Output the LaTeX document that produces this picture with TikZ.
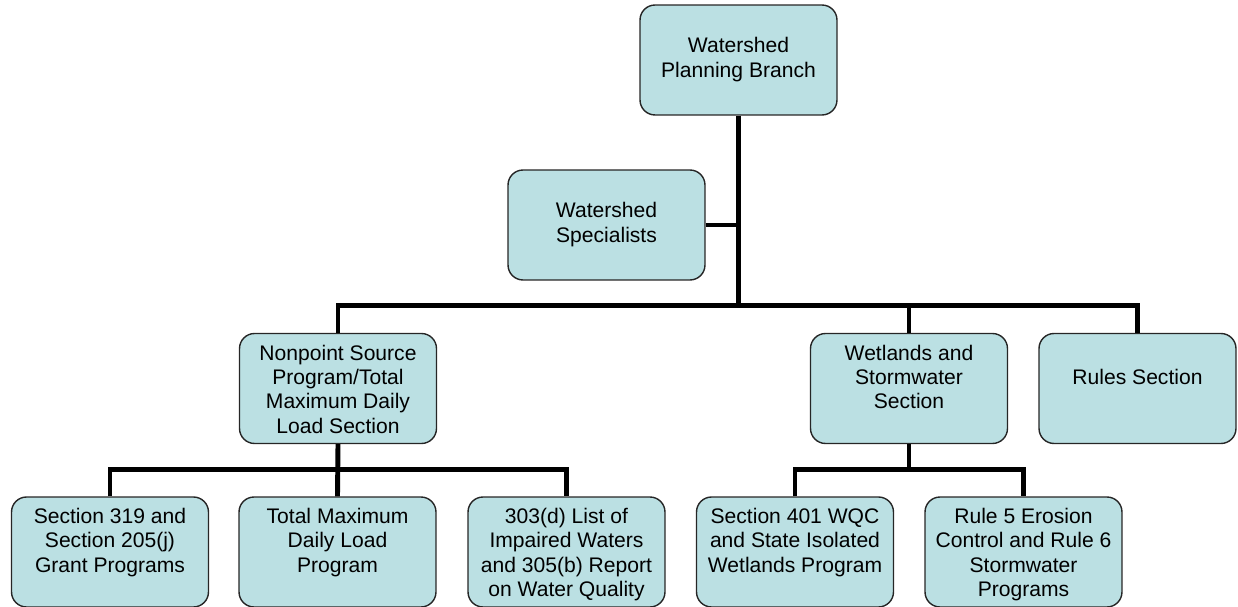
\documentclass[tikz,border=0pt]{standalone}
\usepackage{fontspec}
\setmainfont{Liberation Sans}
\definecolor{boxblue}{RGB}{187,224,227}
\newcommand{\orgtop}[1]{\parbox[c][2.2cm][t]{3.94cm}{\centering\fontsize{12}{13.9}\selectfont\rule{0pt}{0.53cm}#1}}
\newcommand{\orgmid}[1]{\parbox[c][2.2cm][c]{3.94cm}{\centering\fontsize{12}{13.9}\selectfont\strut#1\strut}}
\begin{document}
\begin{tikzpicture}[x=0.02cm, y=-0.02cm,
    orgbox/.style={draw=black!85, fill=boxblue, rounded corners=0.3cm, line width=0.8pt, inner sep=0pt},
    conn/.style={line width=2.8pt}]
    \useasboundingbox (0,0) rectangle (1238,607);

    %boxes
    \node[orgbox] (branch) at (738.5,60) {\orgmid{Watershed\\Planning Branch}};
    \node[orgbox] (spec) at (606.5,225) {\orgmid{Watershed\\Specialists}};
    \node[orgbox] (nps) at (338,388.5) {\orgtop{Nonpoint Source\\Program/Total\\Maximum Daily\\Load Section}};
    \node[orgbox] (wet) at (909,388.5) {\orgtop{Wetlands and\\Stormwater\\Section}};
    \node[orgbox] (rules) at (1137.5,388.5) {\orgtop{\mbox{}\\Rules Section}};
    \node[orgbox] (grant) at (110,552) {\orgtop{Section 319 and\\Section 205(j)\\Grant Programs}};
    \node[orgbox] (tmdl) at (337.5,552) {\orgtop{Total Maximum\\Daily Load\\Program}};
    \node[orgbox] (list) at (566.5,552) {\orgtop{303(d) List of\\Impaired Waters\\and 305(b) Report\\on Water Quality}};
    \node[orgbox] (wqc) at (795,552) {\orgtop{Section 401 WQC\\and State Isolated\\Wetlands Program}};
    \node[orgbox] (erosion) at (1023.5,552) {\orgtop{Rule 5 Erosion\\Control and Rule 6\\Stormwater\\Programs}};

    %lines
    \draw[conn] (branch.south) -- ++(0,192);
    \draw[conn] (spec.east) -- (spec.east -| branch.south);
    \draw[conn] (nps.north) -- ++(0,-27) -| (rules.north);
    \draw[conn] (wet.north) -- ++(0,-27);
    \draw[conn] (nps.south) -- (tmdl.north);
    \draw[conn] (grant.north) -- ++(0,-27) -| (list.north);
    \draw[conn] (wet.south) -- ++(0,28);
    \draw[conn] (wqc.north) -- ++(0,-27) -| (erosion.north);
\end{tikzpicture}
\end{document}
